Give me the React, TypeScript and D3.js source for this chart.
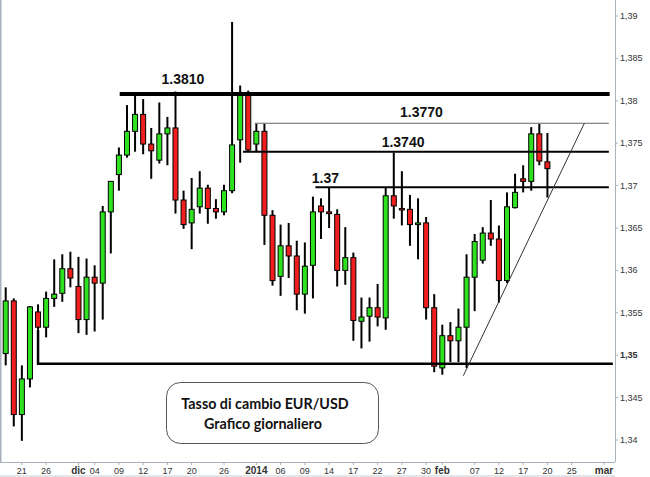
import React from 'react';
import * as d3 from 'd3';

const W = 650;
const H = 477;

// Daily EUR/USD candles, 19 Nov 2013 -> 20 Feb 2014 (weekdays)
const openV = [
  1.3502, 1.3564, 1.3430, 1.3472, 1.3551, 1.3533, 1.3567, 1.3573, 1.3602, 1.3581,
  1.3542, 1.3592, 1.3585, 1.3669, 1.3713, 1.3736, 1.3764, 1.3784, 1.3749, 1.3730,
  1.3761, 1.3768, 1.3683, 1.3656, 1.3675, 1.3697, 1.3673, 1.3669, 1.3694, 1.3754,
  1.3807, 1.3749, 1.3764, 1.3665, 1.3593, 1.3629, 1.3617, 1.3572, 1.3606, 1.3676,
  1.3669, 1.3666, 1.3600, 1.3615, 1.3540, 1.3546, 1.3556, 1.3544, 1.3688, 1.3673,
  1.3672, 1.3654, 1.3656, 1.3556, 1.3485, 1.3523, 1.3517, 1.3533, 1.3592, 1.3612,
  1.3644, 1.3637, 1.3588, 1.3674, 1.3708, 1.3705, 1.3761, 1.3728,
];
const highV = [
  1.3580, 1.3567, 1.3488, 1.3558, 1.3560, 1.3575, 1.3613, 1.3619, 1.3622, 1.3616,
  1.3614, 1.3606, 1.3676, 1.3705, 1.3745, 1.3795, 1.3808, 1.3802, 1.3768, 1.3798,
  1.3781, 1.3811, 1.3694, 1.3709, 1.3717, 1.3701, 1.3684, 1.3701, 1.3893, 1.3818,
  1.3812, 1.3773, 1.3773, 1.3671, 1.3654, 1.3656, 1.3635, 1.3633, 1.3687, 1.3685,
  1.3698, 1.3672, 1.3651, 1.3621, 1.3568, 1.3568, 1.3584, 1.3698, 1.3739, 1.3717,
  1.3689, 1.3685, 1.3663, 1.3572, 1.3536, 1.3539, 1.3555, 1.3619, 1.3643, 1.3651,
  1.3683, 1.3653, 1.3692, 1.3714, 1.3724, 1.3769, 1.3773, 1.3762,
];
const lowV = [
  1.3488, 1.3416, 1.3399, 1.3462, 1.3530, 1.3521, 1.3557, 1.3563, 1.3580, 1.3526,
  1.3524, 1.3528, 1.3542, 1.3620, 1.3694, 1.3733, 1.3740, 1.3737, 1.3708, 1.3726,
  1.3724, 1.3667, 1.3649, 1.3625, 1.3667, 1.3655, 1.3661, 1.3665, 1.3691, 1.3727,
  1.3740, 1.3740, 1.3630, 1.3582, 1.3570, 1.3591, 1.3553, 1.3549, 1.3567, 1.3637,
  1.3650, 1.3581, 1.3583, 1.3517, 1.3508, 1.3516, 1.3534, 1.3530, 1.3661, 1.3653,
  1.3629, 1.3613, 1.3542, 1.3480, 1.3477, 1.3492, 1.3492, 1.3485, 1.3552, 1.3608,
  1.3629, 1.3562, 1.3585, 1.3673, 1.3692, 1.3694, 1.3724, 1.3686,
];
const closeV = [
  1.3564, 1.3430, 1.3472, 1.3557, 1.3533, 1.3567, 1.3572, 1.3602, 1.3591, 1.3542,
  1.3592, 1.3585, 1.3669, 1.3705, 1.3736, 1.3764, 1.3784, 1.3749, 1.3741, 1.3761,
  1.3768, 1.3683, 1.3654, 1.3672, 1.3697, 1.3673, 1.3669, 1.3694, 1.3748, 1.3807,
  1.3742, 1.3764, 1.3665, 1.3588, 1.3629, 1.3617, 1.3572, 1.3605, 1.3669, 1.3669,
  1.3667, 1.3600, 1.3615, 1.3541, 1.3545, 1.3556, 1.3545, 1.3688, 1.3676, 1.3672,
  1.3654, 1.3656, 1.3556, 1.3487, 1.3523, 1.3517, 1.3533, 1.3592, 1.3634, 1.3644,
  1.3637, 1.3588, 1.3675, 1.3692, 1.3705, 1.3761, 1.3729, 1.3720,
];

const tickDates = [
  '2013-11-21', '2013-11-26', '2013-12-02', '2013-12-04', '2013-12-09', '2013-12-12',
  '2013-12-17', '2013-12-20', '2013-12-26', '2014-01-01', '2014-01-06', '2014-01-09',
  '2014-01-14', '2014-01-17', '2014-01-22', '2014-01-27', '2014-01-30', '2014-02-03',
  '2014-02-07', '2014-02-12', '2014-02-17', '2014-02-20', '2014-02-25', '2014-03-03',
];
const tickLabels = [
  '21', '26', 'dic', '04', '09', '12', '17', '20', '26', '2014', '06', '09',
  '14', '17', '22', '27', '30', 'feb', '07', '12', '17', '20', '25', 'mar',
];
const boldLabels = ['dic', '2014', 'feb', 'mar'];
const yTickValues = [1.34, 1.345, 1.35, 1.355, 1.36, 1.365, 1.37, 1.375, 1.38, 1.385, 1.39];

// Horizontal levels (price, start day index, end day index)
const levelValues = [1.3808, 1.37735, 1.374, 1.3698];
const levelFrom = [14.1, 30.8, 29.35, 38.3];
const levelTo = [74.7, 74.6, 74.6, 74.6];
const levelText = ['1.3810', '1.3770', '1.3740', '1.37'];
const levelTextIdx = [19.27, 48.77, 46.5, 37.85];
const levelTextValue = [1.38204, 1.37805, 1.37459, 1.37034];

// Support line (from candle 4 low down to 1.349 and across)
const supportIdx = [4, 4, 75.1];
const supportVal = [1.353, 1.349, 1.349];
// Trend line
const trendIdx = [56.6, 71.57];
const trendVal = [1.34758, 1.37735];

const parse = d3.timeParse('%Y-%m-%d');
const days = d3.timeDay
  .range(new Date(2013, 10, 19), new Date(2014, 2, 4))
  .filter((d) => d.getDay() !== 0 && d.getDay() !== 6);
const dayIndex = (d: Date) => days.findIndex((e) => +e === +d);

export default function App() {
  const x = d3.scaleLinear().domain([0, 74]).range([5.7, 604]);
  const y = d3.scaleLinear().domain([1.34, 1.39]).range([440, 16]);
  const plotRight = 615;
  const plotBottom = 462;
  const fmt = (v: number) => String(+v.toFixed(3)).replace('.', ',');
  const green = '#2fe21f';
  const red = '#f01e1e';
  const line = d3.line<[number, number]>().x((d) => x(d[0])).y((d) => y(d[1]));

  return (
    <svg
      width={W}
      height={H}
      style={{ position: 'absolute', left: 0, top: 0, background: '#fff' }}
      fontFamily="'Liberation Sans', Arial, sans-serif"
    >
      <rect x={0} y={0} width={W} height={H} fill="#fff" />
      {/* frame */}
      <line x1={0.75} y1={0} x2={0.75} y2={plotBottom} stroke="#a9b1ba" strokeWidth={1.5} />
      <line x1={0} y1={plotBottom + 0.5} x2={plotRight} y2={plotBottom + 0.5} stroke="#a9b1ba" />
      <line x1={plotRight + 0.5} y1={0} x2={plotRight + 0.5} y2={plotBottom} stroke="#a9b1ba" />
      <line x1={0} y1={H - 1} x2={plotRight} y2={H - 1} stroke="#c8ced4" />

      {/* y axis */}
      {yTickValues.map((v) => (
        <g key={v}>
          <line x1={plotRight} x2={plotRight + 3} y1={y(v)} y2={y(v)} stroke="#a9b1ba" />
          <text
            x={620}
            y={y(v) + 3}
            fontSize={9}
            fill="#333"
            fontWeight={v === 1.35 ? 'bold' : 'normal'}
          >
            {fmt(v)}
          </text>
        </g>
      ))}

      {/* x axis */}
      {tickDates.map((ds, i) => {
        const xi = x(dayIndex(parse(ds) as Date));
        const bold = boldLabels.includes(tickLabels[i]);
        return (
          <g key={ds}>
            <line x1={xi} x2={xi} y1={plotBottom} y2={plotBottom + 3} stroke="#a9b1ba" />
            <text
              x={xi}
              y={474}
              fontSize={bold ? 10 : 9}
              fontWeight={bold ? 'bold' : 'normal'}
              textAnchor="middle"
              fill="#333"
            >
              {tickLabels[i]}
            </text>
          </g>
        );
      })}

      {/* candles */}
      {openV.map((o, i) => {
        const c = closeV[i];
        const cx = x(i);
        const top = y(Math.max(o, c));
        const bot = y(Math.min(o, c));
        return (
          <g key={i}>
            <line x1={cx} x2={cx} y1={y(highV[i])} y2={y(lowV[i])} stroke="#000" strokeWidth={2} />
            <rect
              x={cx - 2.5}
              y={top}
              width={5}
              height={Math.max(1.5, bot - top)}
              fill={c >= o ? green : red}
              stroke="#000"
              strokeWidth={1}
            />
          </g>
        );
      })}

      {/* support line */}
      <path
        d={line(supportIdx.map((v, i) => [v, supportVal[i]]) as [number, number][]) || ''}
        fill="none"
        stroke="#000"
        strokeWidth={2.5}
      />
      {/* levels */}
      {levelValues.map((v, i) => (
        <line
          key={v}
          x1={x(levelFrom[i])}
          x2={x(levelTo[i])}
          y1={y(v)}
          y2={y(v)}
          stroke={i === 1 ? '#666' : '#000'}
          strokeWidth={i === 0 ? 4 : i === 1 ? 1 : 2}
        />
      ))}
      {/* trend line */}
      <path
        d={line(trendIdx.map((v, i) => [v, trendVal[i]]) as [number, number][]) || ''}
        fill="none"
        stroke="#333"
        strokeWidth={1}
      />
      {levelText.map((t, i) => (
        <text
          key={t}
          x={x(levelTextIdx[i])}
          y={y(levelTextValue[i])}
          fontSize={14}
          fontWeight="bold"
          fill="#111"
        >
          {t}
        </text>
      ))}

      {/* caption box */}
      <rect x={166.5} y={382.5} width={212} height={61} rx={14} fill="#fff" stroke="#555" />
      <text x={265} y={409} textAnchor="middle" fontSize={14.3} fontWeight="bold" fontFamily="Lato, sans-serif" fill="#111">
        Tasso di cambio EUR/USD
      </text>
      <text x={263} y={429} textAnchor="middle" fontSize={14.3} fontWeight="bold" fontFamily="Lato, sans-serif" fill="#111">
        Grafico giornaliero
      </text>
    </svg>
  );
}
